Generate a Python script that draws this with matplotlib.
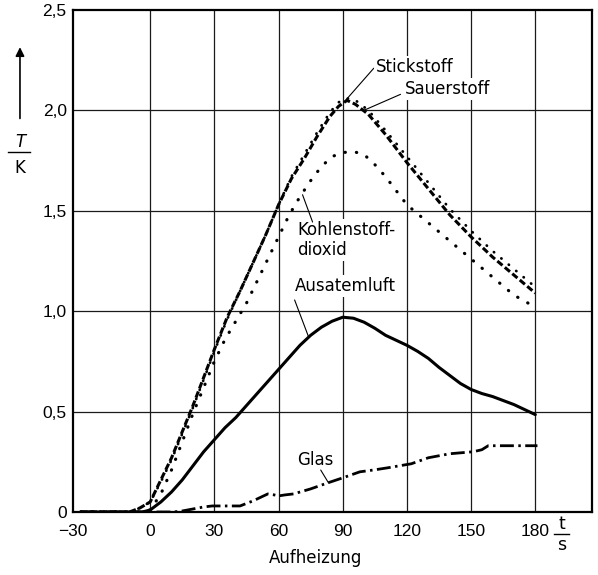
import numpy as np
import matplotlib
matplotlib.use("Agg")
import matplotlib.pyplot as plt
from matplotlib import font_manager

# ---------------------------------------------------------------------------
# data: t in s, T in K
# ---------------------------------------------------------------------------
t_n2 = [-27, -8, -4, 0, 5, 10, 15, 20, 25, 30, 36, 42, 48, 54, 60, 66, 72, 78,
        84, 88, 92, 96, 102, 110, 120, 130, 140, 150, 160, 170, 180]
T_n2 = [0, 0, 0.02, 0.05, 0.16, 0.27, 0.40, 0.53, 0.67, 0.81, 0.97, 1.10, 1.24,
        1.38, 1.53, 1.66, 1.76, 1.87, 1.97, 2.02, 2.05, 2.03, 1.98, 1.88, 1.74,
        1.61, 1.48, 1.37, 1.27, 1.18, 1.09]

t_o2 = [-27, -8, -4, 0, 5, 10, 15, 20, 25, 30, 36, 42, 48, 54, 60, 66, 72, 78,
        84, 88, 92, 96, 102, 110, 120, 130, 140, 150, 160, 170, 180]
T_o2 = [0, 0, 0.02, 0.05, 0.15, 0.26, 0.39, 0.52, 0.66, 0.80, 0.96, 1.10, 1.24,
        1.38, 1.53, 1.67, 1.78, 1.89, 1.99, 2.04, 2.06, 2.05, 2.00, 1.90, 1.77,
        1.64, 1.51, 1.40, 1.30, 1.21, 1.12]

t_co2 = [-27, -4, 0, 5, 10, 15, 20, 25, 30, 35, 40, 45, 50, 55, 60, 65, 70, 75,
         80, 85, 90, 95, 100, 105, 110, 115, 120, 130, 140, 150, 160, 170, 180]
T_co2 = [0, 0, 0.01, 0.09, 0.21, 0.35, 0.49, 0.62, 0.75, 0.86, 0.95, 1.04, 1.15,
         1.26, 1.37, 1.48, 1.57, 1.65, 1.72, 1.77, 1.79, 1.795, 1.78, 1.73, 1.67,
         1.60, 1.53, 1.44, 1.35, 1.26, 1.17, 1.08, 1.02]

t_aus = [-27, -3, 0, 5, 10, 15, 20, 25, 30, 35, 40, 45, 50, 55, 60, 65, 70, 75,
         80, 85, 90, 95, 100, 105, 110, 115, 120, 125, 130, 135, 140, 145, 150,
         155, 160, 165, 170, 175, 180]
T_aus = [0, 0, 0.01, 0.05, 0.10, 0.16, 0.23, 0.30, 0.36, 0.42, 0.47, 0.53, 0.59,
         0.65, 0.71, 0.77, 0.83, 0.88, 0.92, 0.95, 0.97, 0.965, 0.945, 0.915,
         0.88, 0.855, 0.83, 0.80, 0.765, 0.72, 0.68, 0.64, 0.61, 0.59, 0.575,
         0.555, 0.535, 0.51, 0.485]

t_glas = [-27, 10, 14, 20, 25, 29, 35, 42, 48, 52, 55, 58, 60, 63, 67, 75, 83,
          90, 98, 105, 111, 122, 130, 140, 151, 155, 158, 164, 172, 181]
T_glas = [0, 0, 0.003, 0.015, 0.025, 0.03, 0.03, 0.03, 0.055, 0.075, 0.09,
          0.085, 0.08, 0.085, 0.09, 0.115, 0.145, 0.17, 0.20, 0.21, 0.22, 0.24,
          0.27, 0.29, 0.30, 0.31, 0.33, 0.33, 0.33, 0.33]

x_ticks = [-30, 0, 30, 60, 90, 120, 150, 180]
y_ticks = [0, 0.5, 1.0, 1.5, 2.0, 2.5]
y_tick_labels = ["0", "0,5", "1,0", "1,5", "2,0", "2,5"]

# ---------------------------------------------------------------------------
# fonts
# ---------------------------------------------------------------------------
installed = {f.name for f in font_manager.fontManager.ttflist}
TICK_FONT = "Liberation Sans" if "Liberation Sans" in installed else "DejaVu Sans"
plt.rcParams["font.family"] = ["DejaVu Sans"]

# the section left of 0 is drawn a bit wider than 30 s in the original
K_NEG = 77 / 64


def fwd(x):
    x = np.asarray(x, dtype=float)
    return np.where(x < 0, x * K_NEG, x)


def inv(x):
    x = np.asarray(x, dtype=float)
    return np.where(x < 0, x / K_NEG, x)


fig = plt.figure(figsize=(5.98, 5.75), dpi=100)
ax = fig.add_axes([0.122, 0.1096, 0.868, 0.873])
ax.set_xscale("function", functions=(fwd, inv))
ax.set_xlim(-30, 206.5)
ax.set_ylim(0, 2.5)

# grid
for xv in x_ticks[1:]:
    ax.axvline(xv, color="#1a1a1a", lw=0.9, zorder=1)
for yv in y_ticks[1:-1]:
    ax.axhline(yv, color="#1a1a1a", lw=0.9, zorder=1)

for s in ax.spines.values():
    s.set_linewidth(1.6)

# ---------------------------------------------------------------------------
# curves
# ---------------------------------------------------------------------------
ax.plot(t_n2, T_n2, color="k", lw=2.2, linestyle=(0, (2.2, 1.0)),
        dash_capstyle="butt", zorder=4)
ax.plot(t_o2, T_o2, color="k", lw=2.0, linestyle=(0, (0.1, 3.4)),
        dash_capstyle="round", zorder=4)
ax.plot(t_co2, T_co2, color="k", lw=2.3, linestyle=(0, (0.1, 3.5)),
        dash_capstyle="round", zorder=4)
ax.plot(t_aus, T_aus, color="k", lw=2.2, solid_capstyle="round", zorder=4)
ax.plot(t_glas, T_glas, color="k", lw=2.0, linestyle=(0, (5, 1.6, 0.9, 1.6)),
        dash_capstyle="butt", zorder=4)

# ---------------------------------------------------------------------------
# labels with leader lines
# ---------------------------------------------------------------------------
box = dict(facecolor="white", edgecolor="none", pad=1.5)
lbl = dict(fontsize=12, ha="left", va="center", zorder=6, bbox=box)
lead = dict(arrowstyle="-", lw=0.8, color="k", shrinkA=0, shrinkB=0)

ax.text(105.5, 2.216, "Stickstoff", **lbl)
ax.text(119, 2.106, "Sauerstoff", **lbl)
ax.text(68.9, 1.355, "Kohlenstoff-\ndioxid", linespacing=1.15, **lbl)
ax.text(67.5, 1.125, "Ausatemluft", **lbl)
ax.text(68.9, 0.259, "Glas", **lbl)

ax.annotate("", xy=(90.5, 2.04), xytext=(104.5, 2.21), arrowprops=lead, zorder=5)
ax.annotate("", xy=(99.8, 2.0), xytext=(117, 2.08), arrowprops=lead, zorder=5)
ax.annotate("", xy=(71.2, 1.58), xytext=(75.9, 1.444), arrowprops=lead, zorder=7)
ax.annotate("", xy=(74.1, 0.87), xytext=(67.5, 1.056), arrowprops=lead, zorder=7)
ax.annotate("", xy=(83.4, 0.144), xytext=(79.7, 0.209), arrowprops=lead, zorder=7)

# ---------------------------------------------------------------------------
# axes text
# ---------------------------------------------------------------------------
ax.set_xticks(x_ticks)
ax.set_xticklabels([str(v).replace("-", "\u2212") for v in x_ticks],
                   family=TICK_FONT, fontsize=12.5)
ax.set_yticks(y_ticks)
ax.set_yticklabels(y_tick_labels, family=TICK_FONT, fontsize=12.5)
ax.tick_params(axis="x", length=0, pad=9)
ax.tick_params(axis="y", length=0, pad=4.5)
ax.minorticks_off()

ax.set_xlabel("Aufheizung", fontsize=12)
ax.xaxis.set_label_coords(0.468, -0.074)

# t / s unit fraction next to the 180 label
ax.text(0.941, -0.033, "t", transform=ax.transAxes, ha="center",
        va="baseline", fontsize=12.5)
ax.text(0.941, -0.075, "s", transform=ax.transAxes, ha="center",
        va="baseline", fontsize=12.5)
ax.plot([0.927, 0.955], [-0.0435, -0.0435], transform=ax.transAxes,
        color="k", lw=1.0, clip_on=False)

# T / K with the upward arrow
fig.text(0.0334, 0.7443, "T", ha="center", va="baseline", fontsize=12,
         style="italic")
fig.text(0.0334, 0.6991, "K", ha="center", va="baseline", fontsize=12)
fig.add_artist(plt.Line2D([0.0134, 0.0502], [0.7357, 0.7357], color="k", lw=1.0))
ax.annotate("", xy=(0.0334, 0.918), xytext=(0.0334, 0.794),
            xycoords="figure fraction", textcoords="figure fraction",
            arrowprops=dict(arrowstyle="-|>", lw=1.2, color="k",
                            mutation_scale=13, shrinkA=0, shrinkB=0))

fig.savefig("out.png", dpi=100)
